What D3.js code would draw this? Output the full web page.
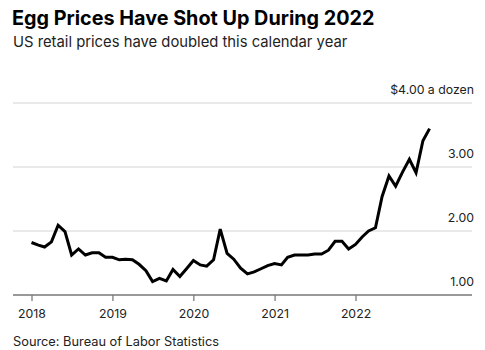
<!DOCTYPE html>
<html>

<head>
    <script src="https://d3js.org/d3.v7.min.js"></script>
    <style>
        body { margin: 0; background: #fff; }
        text { font-family: Inter, "Liberation Sans", sans-serif; }
    </style>
    <script>
        const w = 485
        const h = 350
        // monthly average price, grade A large eggs (per dozen), Dec 2017 - Nov 2022
        const months = d3.timeMonths(new Date(2017, 11, 1), new Date(2022, 11, 1))
        const prices = [
            1.82,
            1.78, 1.75, 1.83, 2.09, 1.99, 1.625, 1.72, 1.625, 1.66, 1.66, 1.59, 1.59,
            1.55, 1.56, 1.55, 1.48, 1.38, 1.21, 1.26, 1.22, 1.40, 1.29, 1.41, 1.54,
            1.47, 1.45, 1.55, 2.03, 1.65, 1.56, 1.42, 1.33, 1.36, 1.41, 1.46, 1.49,
            1.47, 1.59, 1.625, 1.625, 1.625, 1.64, 1.64, 1.70, 1.84, 1.84, 1.72, 1.79,
            1.91, 2.00, 2.05, 2.54, 2.86, 2.70, 2.92, 3.12, 2.91, 3.41, 3.60
        ]
        const yTicks = [1, 2, 3, 4]
        const yTickLabels = ["1.00", "2.00", "3.00", "$4.00 a dozen"]
        const xTickYears = [2018, 2019, 2020, 2021, 2022]

        function draw() {
            const svg = d3.select("body").append("svg")
                .attr("width", w)
                .attr("height", h)

            // each month is plotted at the end of the month
            const data = months.map((m, i) => ({ date: d3.timeMonth.offset(m, 1), value: prices[i] }))

            const x = d3.scaleTime()
                .domain([new Date(2018, 0, 1), new Date(2022, 0, 1)])
                .range([31.5, 355.5])
            const y = d3.scaleLinear()
                .domain([1, 4])
                .range([295, 103])

            svg.append("text")
                .attr("x", 12).attr("y", 25)
                .attr("font-size", 19.8).attr("font-weight", 700)
                .attr("fill", "#000")
                .text("Egg Prices Have Shot Up During 2022")
            svg.append("text")
                .attr("x", 13).attr("y", 47)
                .attr("font-size", 14.8).attr("fill", "#222")
                .text("US retail prices have doubled this calendar year")

            // gridlines
            svg.selectAll(".grid")
                .data(yTicks.slice(1))
                .join("line")
                .attr("x1", 13).attr("x2", 472)
                .attr("y1", d => y(d)).attr("y2", d => y(d))
                .attr("stroke", "#d4d4d4").attr("stroke-width", 1)

            svg.selectAll(".ylab")
                .data(yTicks)
                .join("text")
                .attr("x", 474)
                .attr("y", d => y(d) - 9)
                .attr("text-anchor", "end")
                .attr("font-size", 12.3).attr("fill", "#222")
                .text((d, i) => yTickLabels[i])

            // x axis
            const xAxis = d3.axisBottom(x)
                .tickValues(xTickYears.map(yr => new Date(yr, 0, 1)))
                .tickFormat(d3.timeFormat("%Y"))
                .tickSize(6)
                .tickPadding(8)
            const gx = svg.append("g")
                .attr("transform", `translate(0, ${y(1)})`)
                .call(xAxis)
            gx.select(".domain").remove()
            gx.selectAll(".tick line").attr("stroke", "#555")
            gx.selectAll(".tick text")
                .attr("font-size", 12.3).attr("fill", "#222")
                .attr("font-family", "Inter, 'Liberation Sans', sans-serif")
            svg.append("line")
                .attr("x1", 13).attr("x2", 472)
                .attr("y1", y(1)).attr("y2", y(1))
                .attr("stroke", "#777").attr("stroke-width", 1.5)

            const line = d3.line()
                .x(d => x(d.date))
                .y(d => y(d.value))
            svg.append("path")
                .datum(data)
                .attr("d", line)
                .attr("fill", "none")
                .attr("stroke", "#000")
                .attr("stroke-width", 3)
                .attr("stroke-linejoin", "miter")

            svg.append("text")
                .attr("x", 13).attr("y", 346)
                .attr("font-size", 12.8).attr("fill", "#222")
                .text("Source: Bureau of Labor Statistics")
        }
    </script>
</head>

<body onload="draw()">
</body>

</html>
